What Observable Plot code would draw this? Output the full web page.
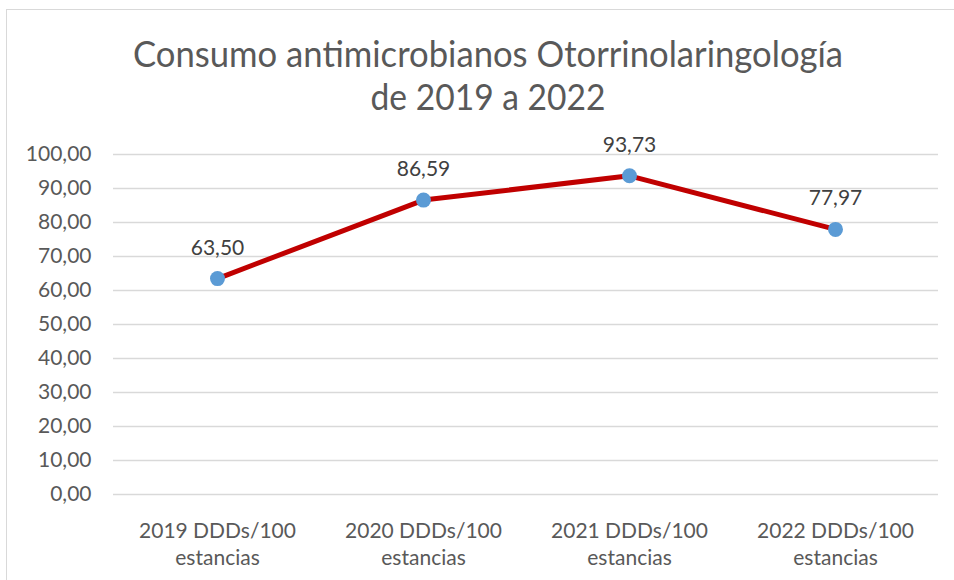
<!DOCTYPE html>
<html>
<head>
<meta charset="utf-8">
<script src="https://cdn.jsdelivr.net/npm/d3@7"></script>
<script src="https://cdn.jsdelivr.net/npm/@observablehq/plot@0.6"></script>
<style>
  html, body { margin: 0; padding: 0; background: #fff; overflow: hidden; }
  #wrap { position: relative; width: 954px; height: 580px; overflow: hidden; font-family: Lato, "Open Sans", sans-serif; }
  #border { position: absolute; left: 6px; top: 9px; width: 1000px; height: 700px; border: 1.5px solid #d9d9d9; box-sizing: border-box; }
  #chart { position: absolute; left: 0; top: 0; }
  #title { position: absolute; left: 0; top: 0; }
</style>
</head>
<body>
<div id="wrap">
  <div id="border"></div>
  <div id="chart"></div>
  <svg id="title" width="954" height="130" xmlns="http://www.w3.org/2000/svg">
    <text x="488" y="67" text-anchor="middle" font-family="Lato, sans-serif" font-size="37" fill="#595959" textLength="710" lengthAdjust="spacingAndGlyphs">Consumo antimicrobianos Otorrinolaringología</text>
    <text x="488" y="110" text-anchor="middle" font-family="Lato, sans-serif" font-size="37" fill="#595959" textLength="235" lengthAdjust="spacingAndGlyphs">de 2019 a 2022</text>
  </svg>
</div>
<script>
const categories = ["2019 DDDs/100 estancias", "2020 DDDs/100 estancias", "2021 DDDs/100 estancias", "2022 DDDs/100 estancias"];
const values = [63.50, 86.59, 93.73, 77.97];
const yTicks = [0, 10, 20, 30, 40, 50, 60, 70, 80, 90, 100];

const data = categories.map((c, i) => ({category: c, value: values[i]}));
const fmt = v => v.toFixed(2).replace(".", ",");

const chart = Plot.plot({
  width: 954,
  height: 580,
  marginLeft: 113,
  marginRight: 16,
  marginTop: 154,
  marginBottom: 86,
  style: {fontFamily: "Lato, 'Open Sans', sans-serif", background: "transparent", overflow: "visible"},
  x: {type: "point", domain: categories, padding: 0.5},
  y: {domain: [0, 100]},
  marks: [
    Plot.gridY(yTicks, {stroke: "#d9d9d9", strokeOpacity: 1, strokeWidth: 1.5}),
    Plot.axisY(yTicks, {
      tickSize: 0, tickPadding: 22, fontSize: 21, fill: "#595959",
      tickFormat: fmt, label: null
    }),
    Plot.axisX({
      tickSize: 0, tickPadding: 24, fontSize: 21, fill: "#595959", lineHeight: 1.3,
      tickFormat: d => d.replace(" estancias", "\nestancias"), label: null
    }),
    Plot.line(data, {x: "category", y: "value", stroke: "#C00000", strokeWidth: 5}),
    Plot.dot(data, {x: "category", y: "value", r: 7.5, fill: "#5B9BD5", stroke: "none"}),
    Plot.text(data, {
      x: "category", y: "value", text: d => fmt(d.value),
      lineAnchor: "bottom", dy: -24, fontSize: 21, fill: "#404040"
    })
  ]
});
document.getElementById("chart").appendChild(chart);
</script>
</body>
</html>
